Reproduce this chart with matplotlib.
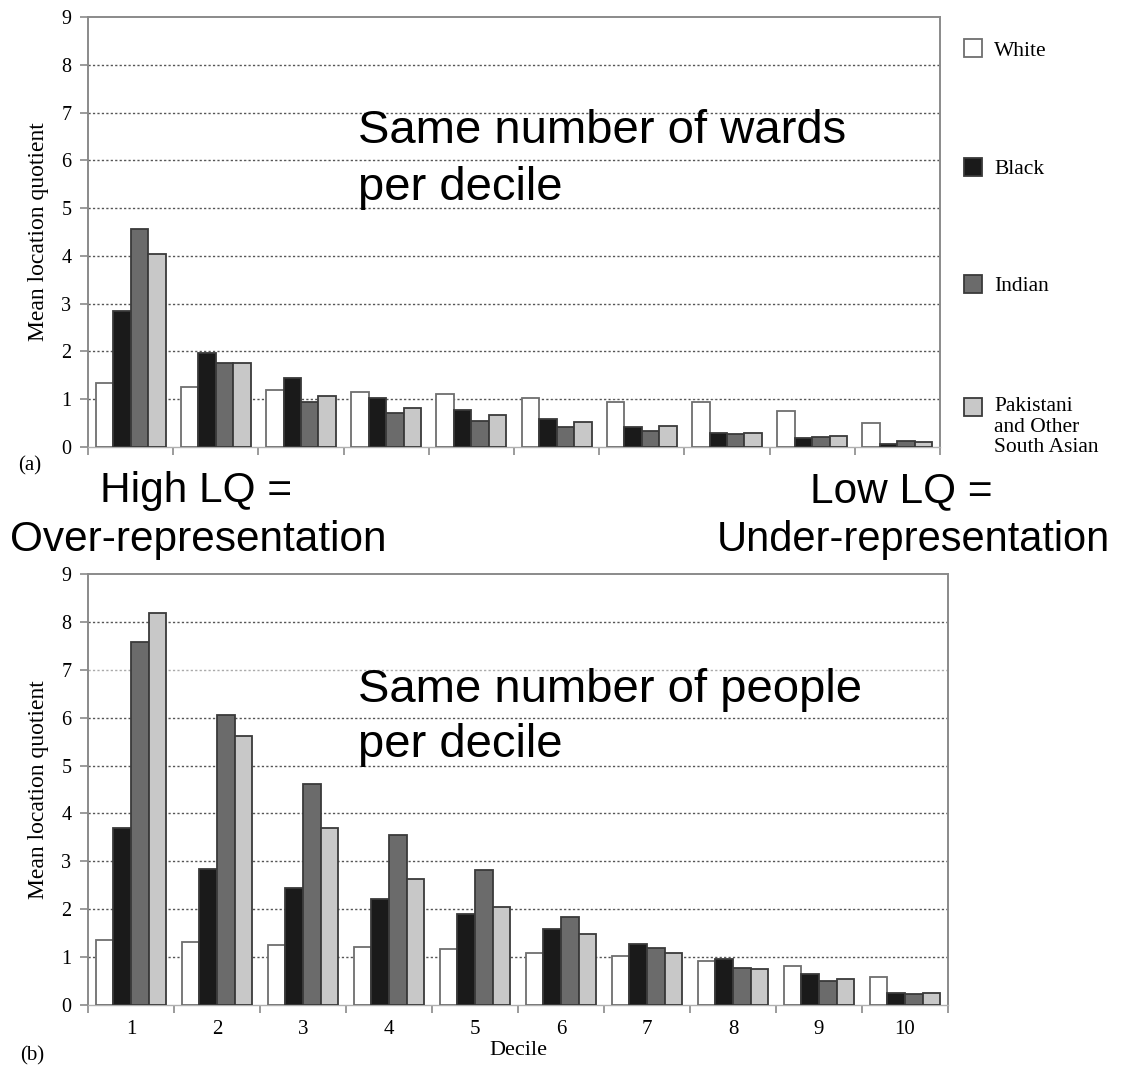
import numpy as np
import matplotlib
matplotlib.use("Agg")
import matplotlib.pyplot as plt
from matplotlib.patches import Rectangle

deciles = [1, 2, 3, 4, 5, 6, 7, 8, 9, 10]
groups = ["White", "Black", "Indian", "Pakistani\nand Other\nSouth Asian"]

# (a) same number of wards per decile
wards_white = [1.33, 1.26, 1.19, 1.16, 1.10, 1.03, 0.94, 0.94, 0.76, 0.50]
wards_black = [2.84, 1.96, 1.44, 1.02, 0.77, 0.59, 0.41, 0.30, 0.18, 0.07]
wards_indian = [4.57, 1.76, 0.95, 0.71, 0.54, 0.41, 0.34, 0.27, 0.21, 0.13]
wards_pak = [4.03, 1.76, 1.07, 0.81, 0.67, 0.53, 0.44, 0.30, 0.24, 0.10]

# (b) same number of people per decile
people_white = [1.36, 1.32, 1.26, 1.22, 1.17, 1.08, 1.03, 0.92, 0.81, 0.58]
people_black = [3.69, 2.83, 2.45, 2.22, 1.89, 1.59, 1.27, 0.96, 0.65, 0.26]
people_indian = [7.58, 6.06, 4.61, 3.55, 2.82, 1.84, 1.18, 0.78, 0.51, 0.23]
people_pak = [8.19, 5.61, 3.69, 2.63, 2.05, 1.48, 1.08, 0.76, 0.54, 0.26]

faces = ["#ffffff", "#1a1a1a", "#6b6b6b", "#c8c8c8"]
edges = ["#6e6e6e", "#3a3a3a", "#3a3a3a", "#3a3a3a"]

W, H = 1128, 1071
serif = "Liberation Serif"
sans = "Liberation Sans"
axis_grey = "#8a8a8a"


def fx(px):
    return px / W


def fy(py):
    return 1 - py / H


def draw_panel(ax, series, show_labels, light_row=None):
    x = np.array(deciles)
    w = 0.205
    for i, vals in enumerate(series):
        ax.bar(x + (i - 1.5) * w, vals, width=w, color=faces[i],
               edgecolor=edges[i], linewidth=1.3, zorder=3)
    ax.set_xlim(0.5, 10.5)
    ax.set_ylim(0, 9)
    ax.set_yticks(range(0, 10))
    ax.set_yticklabels([str(v) for v in range(0, 10)], family=serif, fontsize=14.5)
    ax.set_xticks(np.arange(0.5, 11, 1.0))
    ax.set_xticklabels([])
    ax.tick_params(axis="both", which="major", direction="out", length=6,
                   width=1.2, color=axis_grey, pad=6)
    if show_labels:
        ax.set_xticks(x, minor=True)
        ax.set_xticklabels([str(d) for d in deciles], minor=True,
                           family=serif, fontsize=15)
        ax.tick_params(axis="x", which="minor", length=0, pad=11)
    for s in ax.spines.values():
        s.set_color(axis_grey)
        s.set_linewidth(1.4)
    ax.spines["bottom"].set_color("#b0b0b0")
    ax.spines["bottom"].set_linewidth(1.0)
    for v in range(1, 9):
        c = "#555555"
        if light_row is not None and v == light_row:
            c = "#aaaaaa"
        ax.axhline(v, color=c, linestyle=(0, (1.6, 1.6)), linewidth=1.0, zorder=1)
    ax.text(-0.058, 0.5, "Mean location quotient", transform=ax.transAxes,
            rotation=90, ha="center", va="center", family=serif, fontsize=17)


fig = plt.figure(figsize=(W / 100, H / 100), dpi=100)

ax1 = fig.add_axes([fx(88), fy(447), fx(852), 430 / H])
draw_panel(ax1, [wards_white, wards_black, wards_indian, wards_pak], False)

ax2 = fig.add_axes([fx(88), fy(1005), fx(860), 431 / H])
draw_panel(ax2, [people_white, people_black, people_indian, people_pak], True,
           light_row=7)
ax2.set_xlabel("Decile", family=serif, fontsize=16, labelpad=1)

# legend on the right of panel (a)
box_tops = [39, 158, 275, 398]
for i, name in enumerate(groups):
    fig.add_artist(Rectangle((fx(964), fy(box_tops[i] + 18)), fx(18), 18 / H,
                             transform=fig.transFigure, facecolor=faces[i],
                             edgecolor=edges[i], linewidth=1.3))
    if i < 3:
        fig.text(fx(994), fy(box_tops[i] + 12), name, family=serif,
                 fontsize=15.5, va="center", ha="left")
    else:
        fig.text(fx(994), fy(box_tops[i] - 1), name, family=serif,
                 fontsize=15.5, va="top", ha="left", linespacing=1.12)

fig.text(fx(18), fy(466), "(a)", family=serif, fontsize=15, va="center")
fig.text(fx(20), fy(1056), "(b)", family=serif, fontsize=15, va="center")

# annotations
fig.text(fx(358), fy(143), "Same number of wards", family=sans, fontsize=34,
         va="baseline")
fig.text(fx(358), fy(200), "per decile", family=sans, fontsize=34,
         va="baseline")
fig.text(fx(358), fy(702), "Same number of people", family=sans, fontsize=34,
         va="baseline")
fig.text(fx(358), fy(757), "per decile", family=sans, fontsize=34,
         va="baseline")
fig.text(fx(100), fy(502), "High LQ =", family=sans, fontsize=30.5, va="baseline")
fig.text(fx(10), fy(551), "Over-representation", family=sans, fontsize=30.5,
         va="baseline")
fig.text(fx(810), fy(502), "Low LQ =", family=sans, fontsize=30.5, va="baseline")
fig.text(fx(717), fy(551), "Under-representation", family=sans, fontsize=30,
         va="baseline")

fig.savefig("out.png", dpi=100)
